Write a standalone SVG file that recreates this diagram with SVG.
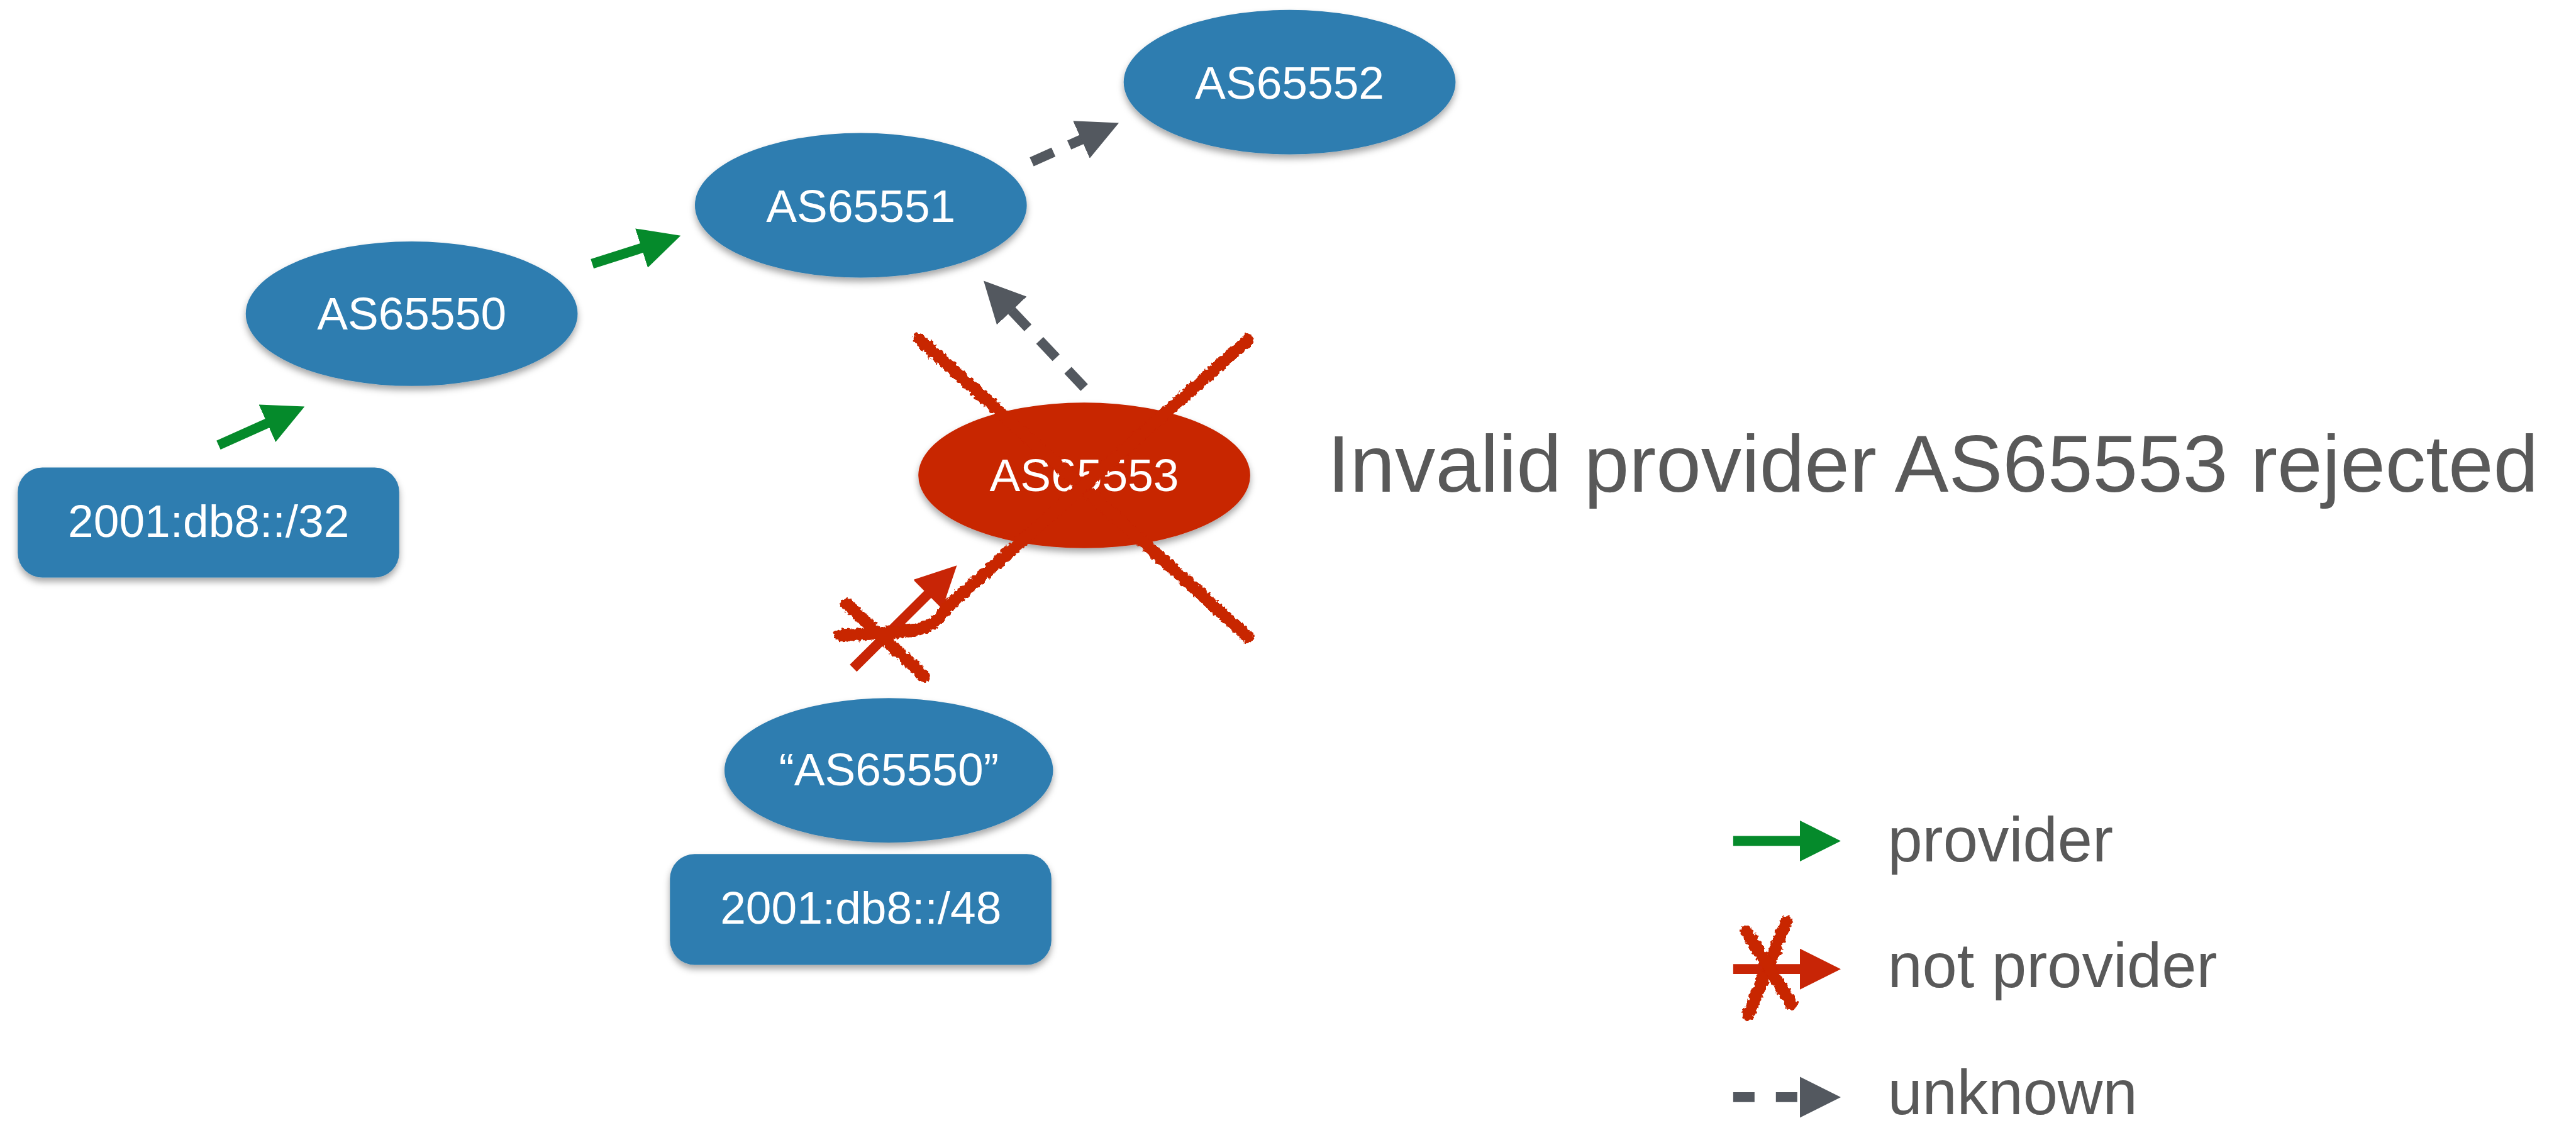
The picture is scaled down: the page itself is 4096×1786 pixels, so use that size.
<svg xmlns="http://www.w3.org/2000/svg" width="4096" height="1786" viewBox="0 0 4096 1786">
<style>
.node{fill:#2f7db0}
.bad{fill:#c82506}
.lbl{font-family:"Liberation Sans",Arial,sans-serif;font-size:28px;fill:#ffffff;text-anchor:middle}
.note{font-family:"Liberation Sans",Arial,sans-serif;fill:#595959}
.green{stroke:#058a2b;stroke-width:6;fill:none}
.redl{stroke:#c82506;stroke-width:6;fill:none}
.gray{stroke:#53585f;stroke-width:6;fill:none}
.chalk{stroke:#c82506;stroke-width:7.5;fill:none;stroke-linecap:round;stroke-linejoin:round}
</style>
<defs>
<marker id="hg" markerUnits="userSpaceOnUse" markerWidth="25" markerHeight="25" viewBox="0 0 25 25" refX="0.5" refY="12.5" orient="auto"><path d="M0,0 L25,12.5 L0,25 Z" fill="#058a2b"/></marker>
<marker id="hr" markerUnits="userSpaceOnUse" markerWidth="25" markerHeight="25" viewBox="0 0 25 25" refX="0.5" refY="12.5" orient="auto"><path d="M0,0 L25,12.5 L0,25 Z" fill="#c82506"/></marker>
<marker id="hk" markerUnits="userSpaceOnUse" markerWidth="25" markerHeight="25" viewBox="0 0 25 25" refX="0.5" refY="12.5" orient="auto"><path d="M0,0 L25,12.5 L0,25 Z" fill="#53585f"/></marker>
<filter id="shadow" filterUnits="userSpaceOnUse" x="0" y="0" width="1600" height="700">
<feDropShadow dx="0" dy="2.5" stdDeviation="2" flood-color="#000" flood-opacity="0.35"/>
</filter>
<filter id="rough" filterUnits="userSpaceOnUse" x="0" y="0" width="1600" height="700">
<feTurbulence type="fractalNoise" baseFrequency="0.45" numOctaves="2" seed="4" result="n"/>
<feDisplacementMap in="SourceGraphic" in2="n" scale="3.5" xChannelSelector="R" yChannelSelector="G"/>
</filter>
</defs>
<rect x="0" y="0" width="4096" height="1786" fill="#ffffff"/>
<g transform="scale(2.6122)">
<g id="connectors">
<line class="green" x1="133" y1="271" x2="163.09" y2="257.52" marker-end="url(#hg)"/>
<line class="green" x1="360.5" y1="160.6" x2="390.98" y2="150.89" marker-end="url(#hg)"/>
<line class="gray" x1="628" y1="98.5" x2="658.68" y2="84.8" stroke-dasharray="14.5 10.5" marker-end="url(#hk)"/>
<line class="gray" x1="660" y1="236" x2="615.54" y2="188.8" stroke-dasharray="14.5 10.5" marker-end="url(#hk)"/>
<line class="redl" x1="519.4" y1="406.8" x2="565.05" y2="361.51" marker-end="url(#hr)"/>
</g>
<g id="n-as65552"><ellipse class="node" cx="785" cy="50" rx="101" ry="44" filter="url(#shadow)"/><text class="lbl" x="785" y="60">AS65552</text></g>
<g id="n-as65551"><ellipse class="node" cx="524" cy="125" rx="101" ry="44" filter="url(#shadow)"/><text class="lbl" x="524" y="135">AS65551</text></g>
<g id="n-as65550"><ellipse class="node" cx="250.6" cy="191" rx="101" ry="44" filter="url(#shadow)"/><text class="lbl" x="250.6" y="200.6">AS65550</text></g>
<g id="n-p32"><rect class="node" x="10.8" y="284.6" width="232.2" height="67" rx="15" ry="15" filter="url(#shadow)"/><text class="lbl" x="127" y="327">2001:db8::/32</text></g>
<g id="n-fake"><ellipse class="node" cx="541" cy="469" rx="100" ry="44" filter="url(#shadow)"/><text class="lbl" x="541" y="478">“AS65550”</text></g>
<g id="n-p48"><rect class="node" x="407.8" y="520" width="232.2" height="67.4" rx="15" ry="15" filter="url(#shadow)"/><text class="lbl" x="524" y="562.3">2001:db8::/48</text></g>
<g id="n-as65553"><ellipse class="bad" cx="660" cy="289.4" rx="101" ry="44.3" filter="url(#shadow)"/><text class="lbl" x="660" y="299">AS65553</text></g>
<g id="rejection-marks" filter="url(#rough)">
<line class="chalk" x1="559.4" y1="206.3" x2="759.5" y2="387.6"/>
<path class="chalk" d="M759.6,206.9 L590.3,357.4 L577,369 Q570,380 560,383 L545,385 L511.4,386.8"/>
<line class="chalk" x1="515.4" y1="367.8" x2="562.4" y2="411.6"/>
</g>
<text class="note" x="808" y="299.4" font-size="49.3">Invalid provider AS65553 rejected</text>
<g id="legend">
<line class="green" x1="1055" y1="512" x2="1096" y2="512" marker-end="url(#hg)"/>
<text class="note" x="1149" y="524.6" font-size="38">provider</text>
<line class="redl" x1="1055" y1="590" x2="1096" y2="590" marker-end="url(#hr)"/>
<g filter="url(#rough)">
<line class="chalk" x1="1087.4" y1="561.2" x2="1064.2" y2="617.8"/>
<line class="chalk" x1="1063" y1="567" x2="1090.7" y2="611.4"/>
</g>
<text class="note" x="1149" y="601" font-size="38">not provider</text>
<line class="gray" x1="1055" y1="668" x2="1096" y2="668" stroke-dasharray="13 13" stroke-width="6.4" marker-end="url(#hk)"/>
<text class="note" x="1149" y="678.2" font-size="38">unknown</text>
</g>
</g>
</svg>
